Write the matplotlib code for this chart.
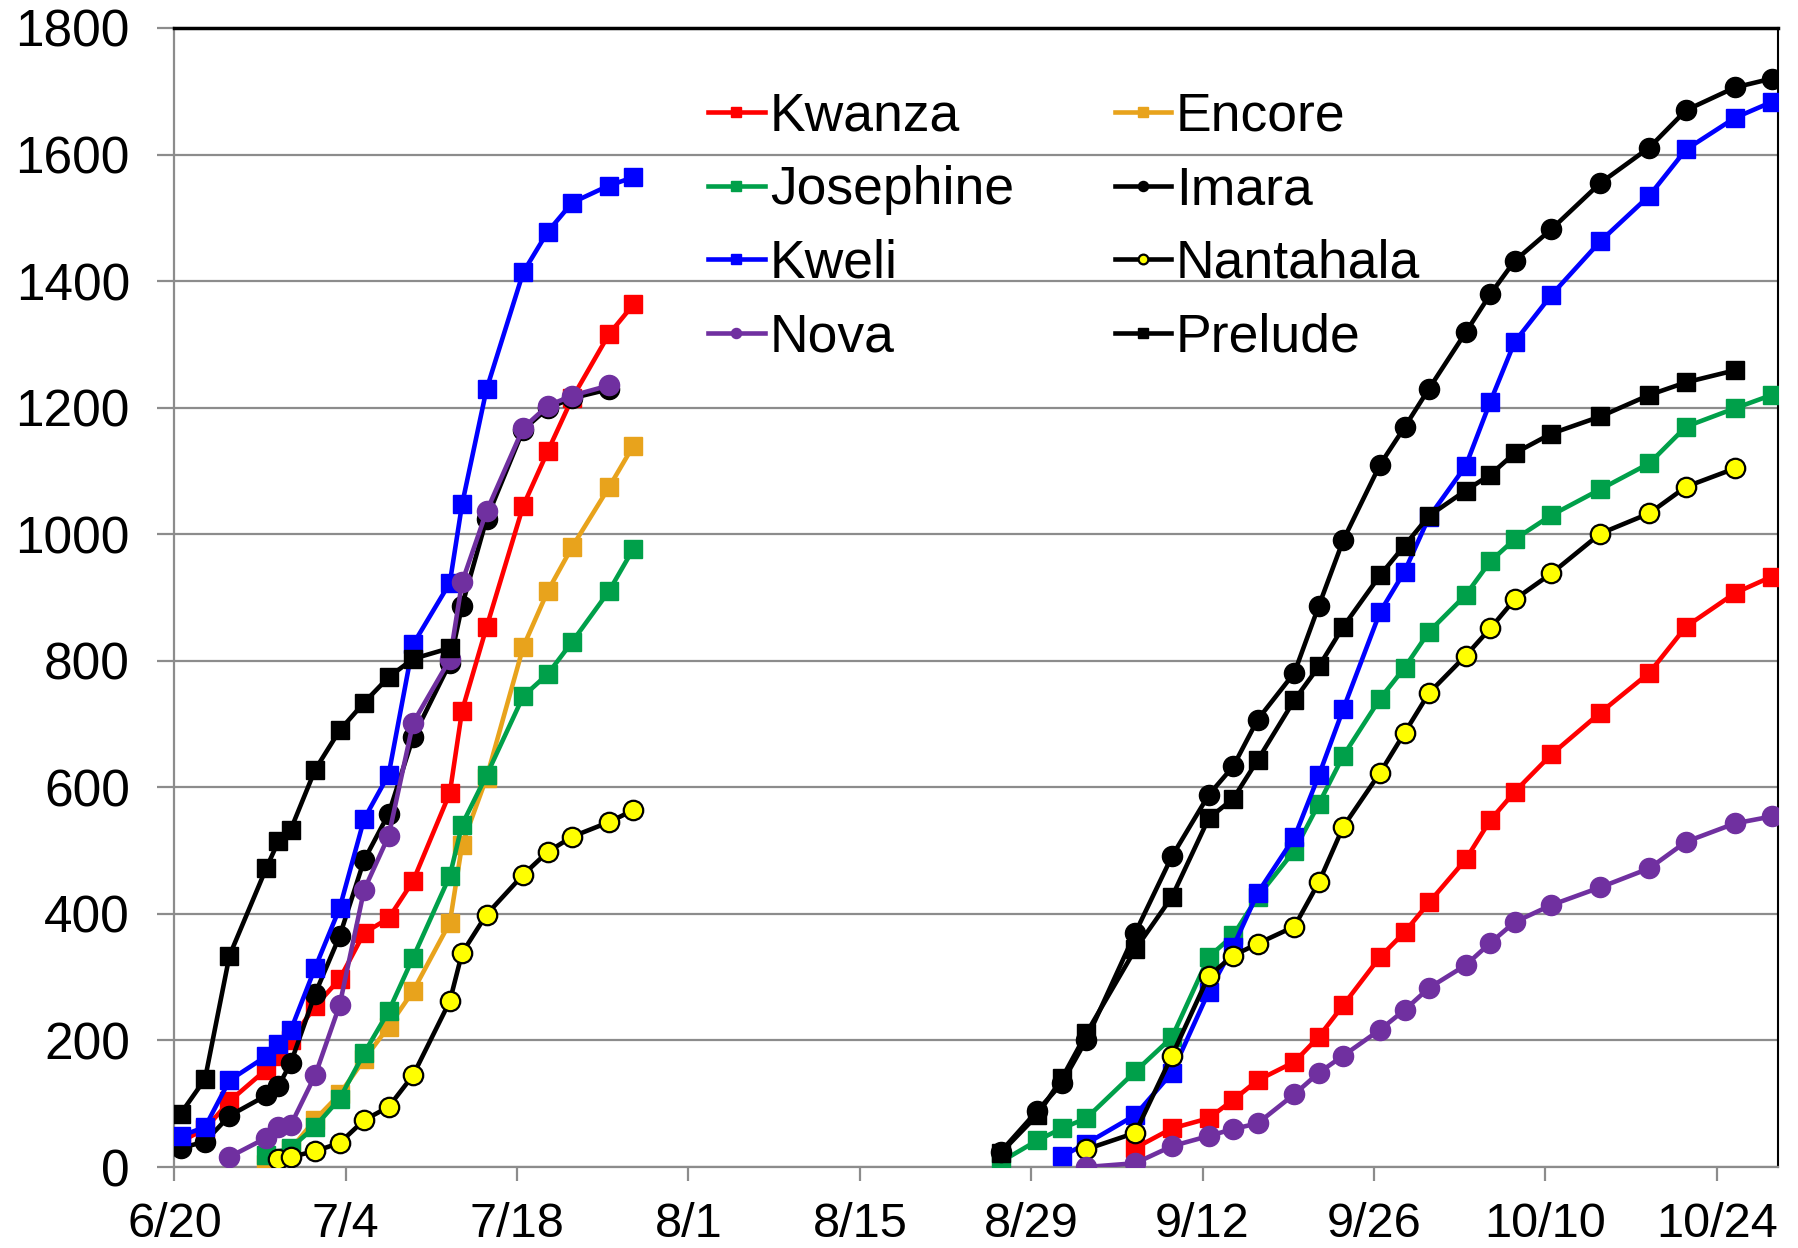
import matplotlib.pyplot as plt
import numpy as np
from datetime import date

plt.rcParams['font.family'] = ['Liberation Sans', 'DejaVu Sans']

# cumulative values per cultivar, sampling dates as m/d
kwanza_dates = ["6/20", "6/22", "6/24", "6/27", "6/28", "6/29", "7/1", "7/3", "7/5", "7/7",
                "7/9", "7/12", "7/13", "7/15", "7/18", "7/20", "7/22", "7/25", "7/27",
                "9/6", "9/9", "9/12", "9/14", "9/16", "9/19", "9/21", "9/23", "9/26", "9/28",
                "9/30", "10/3", "10/5", "10/7", "10/10", "10/14", "10/18", "10/21", "10/25", "10/28"]
kwanza_vals = [40, 60, 104, 154, 175, 200, 254, 297, 370, 393,
               452, 591, 721, 853, 1045, 1131, 1215, 1316, 1363,
               30, 61, 77, 106, 137, 166, 206, 256, 332, 371,
               418, 486, 548, 593, 652, 718, 781, 854, 907, 933]

encore_dates = ["6/27", "6/29", "7/1", "7/3", "7/5", "7/7", "7/9", "7/12", "7/13", "7/15",
                "7/18", "7/20", "7/22", "7/25", "7/27"]
encore_vals = [5, 28, 75, 115, 170, 222, 278, 386, 509, 615,
               822, 910, 980, 1074, 1140]

josephine_dates = ["6/27", "6/29", "7/1", "7/3", "7/5", "7/7", "7/9", "7/12", "7/13", "7/15",
                   "7/18", "7/20", "7/22", "7/25", "7/27",
                   "8/26", "8/29", "8/31", "9/2", "9/6", "9/9", "9/12", "9/14", "9/16", "9/19",
                   "9/21", "9/23", "9/26", "9/28", "9/30", "10/3", "10/5", "10/7", "10/10",
                   "10/14", "10/18", "10/21", "10/25", "10/28"]
josephine_vals = [19, 30, 64, 108, 180, 246, 331, 460, 541, 619,
                  744, 779, 830, 910, 977,
                  8, 42, 61, 77, 151, 205, 332, 366, 427, 500,
                  574, 650, 740, 789, 846, 904, 957, 992, 1030,
                  1071, 1112, 1170, 1199, 1220]

imara_dates = ["6/20", "6/22", "6/24", "6/27", "6/28", "6/29", "7/1", "7/3", "7/5", "7/7",
               "7/9", "7/12", "7/13", "7/15", "7/18", "7/20", "7/22", "7/25",
               "8/26", "8/29", "8/31", "9/2", "9/6", "9/9", "9/12", "9/14", "9/16", "9/19",
               "9/21", "9/23", "9/26", "9/28", "9/30", "10/3", "10/5", "10/7", "10/10",
               "10/14", "10/18", "10/21", "10/25", "10/28"]
imara_vals = [30, 40, 81, 113, 128, 164, 274, 365, 485, 558,
              679, 796, 887, 1024, 1165, 1199, 1215, 1229,
              24, 89, 132, 201, 370, 491, 588, 633, 707, 781,
              887, 991, 1110, 1169, 1230, 1319, 1379, 1432, 1482,
              1555, 1611, 1670, 1706, 1720]

kweli_dates = ["6/20", "6/22", "6/24", "6/27", "6/28", "6/29", "7/1", "7/3", "7/5", "7/7",
               "7/9", "7/12", "7/13", "7/15", "7/18", "7/20", "7/22", "7/25", "7/27",
               "8/31", "9/2", "9/6", "9/9", "9/12", "9/14", "9/16", "9/19",
               "9/21", "9/23", "9/26", "9/28", "9/30", "10/3", "10/5", "10/7", "10/10",
               "10/14", "10/18", "10/21", "10/25", "10/28"]
kweli_vals = [49, 63, 137, 175, 195, 216, 315, 409, 550, 620,
              826, 923, 1047, 1229, 1414, 1478, 1524, 1551, 1564,
              17, 37, 82, 149, 277, 348, 433, 521,
              619, 724, 877, 941, 1027, 1108, 1209, 1304, 1378,
              1463, 1535, 1608, 1658, 1683]

nantahala_dates = ["6/28", "6/29", "7/1", "7/3", "7/5", "7/7", "7/9", "7/12", "7/13", "7/15",
                   "7/18", "7/20", "7/22", "7/25", "7/27",
                   "9/2", "9/6", "9/9", "9/12", "9/14", "9/16", "9/19",
                   "9/21", "9/23", "9/26", "9/28", "9/30", "10/3", "10/5", "10/7", "10/10",
                   "10/14", "10/18", "10/21", "10/25"]
nantahala_vals = [13, 16, 25, 38, 74, 95, 145, 262, 338, 399,
                  462, 498, 522, 545, 564,
                  28, 54, 176, 302, 334, 353, 380,
                  450, 538, 623, 686, 749, 808, 851, 897, 938,
                  1001, 1033, 1075, 1104]

nova_dates = ["6/24", "6/27", "6/28", "6/29", "7/1", "7/3", "7/5", "7/7",
              "7/9", "7/12", "7/13", "7/15", "7/18", "7/20", "7/22", "7/25",
              "9/2", "9/6", "9/9", "9/12", "9/14", "9/16", "9/19",
              "9/21", "9/23", "9/26", "9/28", "9/30", "10/3", "10/5", "10/7", "10/10",
              "10/14", "10/18", "10/21", "10/25", "10/28"]
nova_vals = [16, 46, 63, 66, 145, 256, 438, 523,
             702, 802, 924, 1036, 1168, 1203, 1219, 1235,
             0, 6, 33, 49, 60, 69, 115,
             149, 176, 217, 248, 283, 319, 354, 387, 414,
             442, 472, 514, 543, 554]

prelude_dates = ["6/20", "6/22", "6/24", "6/27", "6/28", "6/29", "7/1", "7/3", "7/5", "7/7",
                 "7/9", "7/12",
                 "8/26", "8/29", "8/31", "9/2", "9/6", "9/9", "9/12", "9/14", "9/16", "9/19",
                 "9/21", "9/23", "9/26", "9/28", "9/30", "10/3", "10/5", "10/7", "10/10",
                 "10/14", "10/18", "10/21", "10/25"]
prelude_vals = [84, 139, 334, 472, 515, 533, 628, 690, 734, 774,
                803, 820,
                22, 82, 140, 211, 344, 427, 551, 582, 643, 738,
                791, 854, 935, 982, 1029, 1069, 1094, 1128, 1159,
                1186, 1220, 1240, 1259]

tick_dates = ["6/20", "7/4", "7/18", "8/1", "8/15", "8/29", "9/12", "9/26", "10/10", "10/24"]

START = date(2001, 6, 20)


def day_num(s):
    m, d = map(int, s.split("/"))
    return (date(2001, m, d) - START).days


def season_xy(dates, vals):
    # points sit mid-day; break the line across the summer gap
    x = np.array([day_num(s) for s in dates], dtype=float) + 0.5
    y = np.array(vals, dtype=float)
    gaps = np.where(np.diff(x) > 14)[0]
    x = np.insert(x, gaps + 1, np.nan)
    y = np.insert(y, gaps + 1, np.nan)
    return x, y


fig = plt.figure(figsize=(17.98, 12.48), dpi=100)
ax = fig.add_axes([0.0970, 0.0649, 0.8918, 0.9127])

LW = 3.3
series = [
    ("Kwanza", kwanza_dates, kwanza_vals, dict(color="#ff0000", marker="s", ms=13.5)),
    ("Encore", encore_dates, encore_vals, dict(color="#e8a31c", marker="s", ms=13.5)),
    ("Josephine", josephine_dates, josephine_vals, dict(color="#00a04a", marker="s", ms=13.5)),
    ("Imara", imara_dates, imara_vals, dict(color="black", marker="o", ms=14.5)),
    ("Kweli", kweli_dates, kweli_vals, dict(color="#0000ff", marker="s", ms=13.5)),
    ("Nantahala", nantahala_dates, nantahala_vals,
     dict(color="black", marker="o", ms=14, mfc="#ffff00", mec="black", mew=1.6)),
    ("Nova", nova_dates, nova_vals, dict(color="#7030a0", marker="o", ms=14.5)),
    ("Prelude", prelude_dates, prelude_vals, dict(color="black", marker="s", ms=13.5)),
]

handles = {}
for i, (name, dts, vals, style) in enumerate(series):
    x, y = season_xy(dts, vals)
    (h,) = ax.plot(x, y, lw=LW, label=name, zorder=3 + i, **style)
    handles[name] = h

ax.set_xlim(0, 131)
ax.set_ylim(0, 1800)
ax.set_yticks(np.arange(0, 1801, 200))
ax.set_xticks([day_num(s) for s in tick_dates])
ax.set_xticklabels(tick_dates)

ax.yaxis.grid(True, color="#8c8c8c", lw=1.6)
ax.set_axisbelow(True)
for side in ("left", "bottom"):
    ax.spines[side].set_color("#8c8c8c")
    ax.spines[side].set_linewidth(1.6)
ax.spines["top"].set_color("black")
ax.spines["top"].set_linewidth(2.5)
ax.spines["right"].set_color("black")
ax.spines["right"].set_linewidth(1.5)

ax.tick_params(axis="y", length=12, width=1.6, color="#8c8c8c", pad=20, labelsize=37)
ax.tick_params(axis="x", length=10, width=1.6, color="#8c8c8c", pad=15, labelsize=35)

order = ["Kwanza", "Josephine", "Kweli", "Nova", "Encore", "Imara", "Nantahala", "Prelude"]
ax.legend([handles[n] for n in order], order, ncol=2, loc="upper left",
          bbox_to_anchor=(0.333, 0.944), frameon=False, fontsize=38.5,
          markerscale=0.5, handlelength=1.05, handletextpad=0.1,
          columnspacing=1.88, labelspacing=0.44, borderpad=0, borderaxespad=0)

fig.savefig("out.png", dpi=100)
